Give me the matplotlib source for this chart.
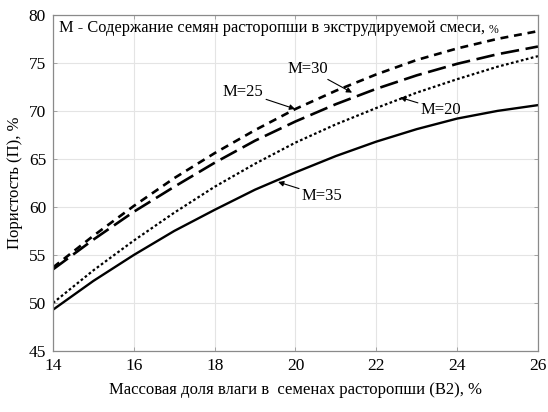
import matplotlib
matplotlib.use("Agg")
import matplotlib.pyplot as plt

plt.rcParams['font.family'] = ['Liberation Serif', 'DejaVu Serif']

# moisture of milk thistle seeds, %
x = [14, 15, 16, 17, 18, 19, 20, 21, 22, 23, 24, 25, 26]

# porosity, %
m25 = [53.7, 57.0, 60.1, 63.0, 65.6, 68.0, 70.2, 72.1, 73.8, 75.3, 76.5, 77.5, 78.3]
m30 = [53.5, 56.6, 59.5, 62.1, 64.6, 66.9, 68.9, 70.7, 72.3, 73.7, 74.9, 75.9, 76.7]
m20 = [50.0, 53.4, 56.5, 59.4, 62.1, 64.5, 66.7, 68.6, 70.3, 71.9, 73.3, 74.6, 75.7]
m35 = [49.3, 52.3, 55.0, 57.5, 59.7, 61.8, 63.6, 65.3, 66.8, 68.1, 69.2, 70.0, 70.6]

xticks = [14, 16, 18, 20, 22, 24, 26]
yticks = [45, 50, 55, 60, 65, 70, 75, 80]

fig = plt.figure(figsize=(5.48, 4.12), dpi=100)
ax = fig.add_axes([0.0967, 0.148, 0.885, 0.816])

ax.plot(x, m25, color='black', lw=1.9, dashes=(3, 2.2))
ax.plot(x, m30, color='black', lw=1.9, dashes=(7, 2.5))
ax.plot(x, m20, color='black', lw=1.6, dashes=(1.2, 1.1))
ax.plot(x, m35, color='black', lw=1.7)

ax.set_xlim(14, 26)
ax.set_ylim(45, 80)
ax.set_xticks(xticks)
ax.set_yticks(yticks)
ax.grid(True, color='#e4e4e4', lw=0.8)
ax.tick_params(direction='in', length=3, width=0.6, color='#999999',
               labelsize=12.5, top=True, right=True, pad=5)
for s in ax.spines.values():
    s.set_color('#8a8a8a')
    s.set_linewidth(0.9)

ax.set_xlabel('Массовая доля влаги в  семенах расторопши (В2), %', fontsize=12, labelpad=6)
ax.set_ylabel('Пористость (П), %', fontsize=12, labelpad=4)

ax.text(0.012, 0.985, 'М - Содержание семян расторопши в экструдируемой смеси,',
        transform=ax.transAxes, ha='left', va='top', fontsize=11.8)
ax.text(0.898, 0.974, '%', transform=ax.transAxes, ha='left', va='top', fontsize=8.5)

arrow = dict(arrowstyle='-|>', color='black', lw=0.8, mutation_scale=8, shrinkA=0, shrinkB=0)
ax.annotate('M=25', xy=(19.99, 70.2), xytext=(18.7, 72.0), ha='center', va='center',
            fontsize=12, arrowprops=arrow)
ax.annotate('M=30', xy=(21.4, 71.9), xytext=(20.31, 74.4), ha='center', va='center',
            fontsize=12, arrowprops=arrow)
ax.annotate('M=20', xy=(22.59, 71.4), xytext=(23.6, 70.1), ha='center', va='center',
            fontsize=12, arrowprops=arrow)
ax.annotate('M=35', xy=(19.57, 62.6), xytext=(20.66, 61.15), ha='center', va='center',
            fontsize=12, arrowprops=arrow)

fig.savefig('out.png', dpi=100)
